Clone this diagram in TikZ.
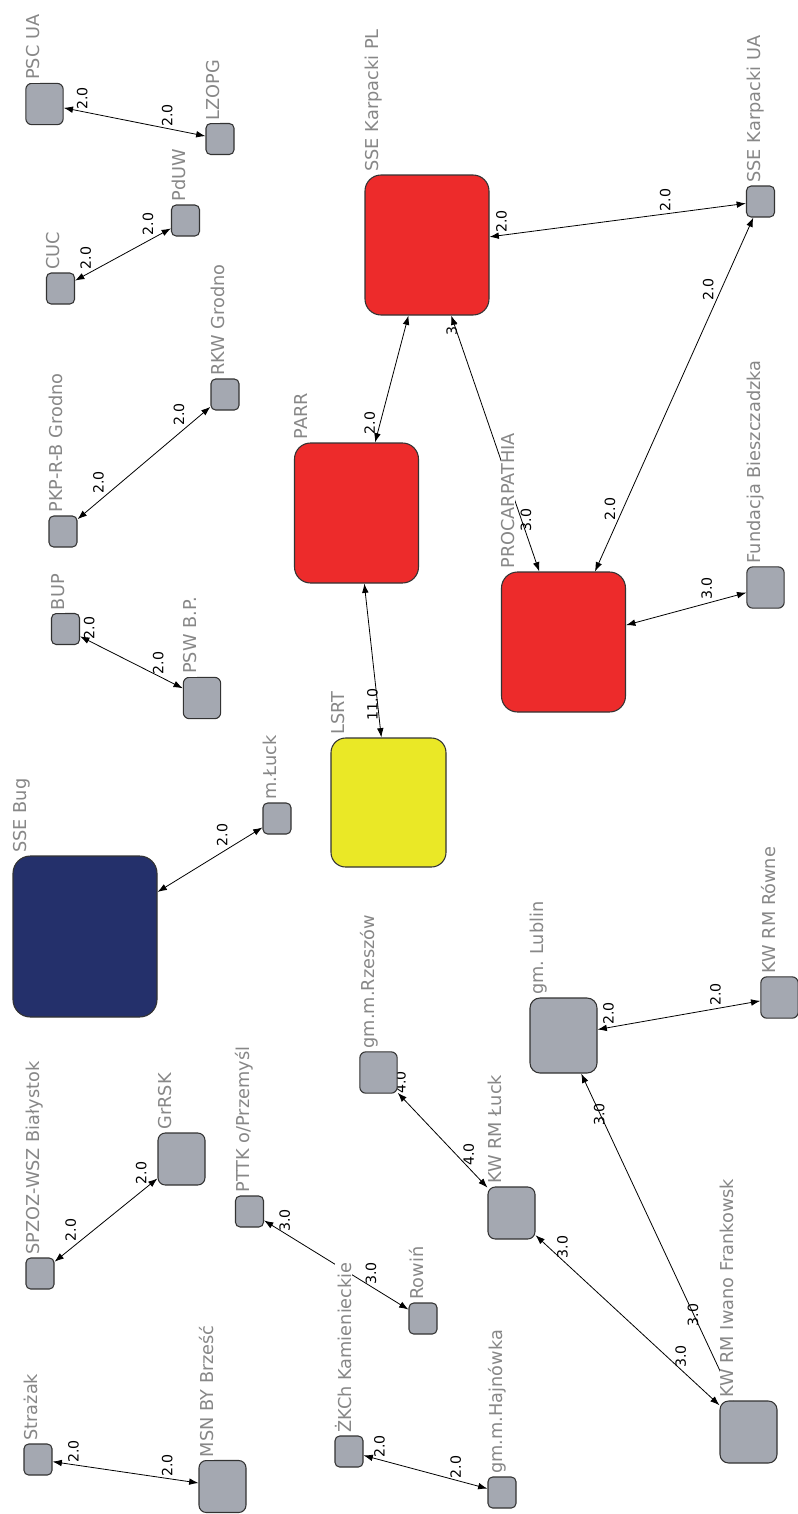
\documentclass[tikz,border=0pt]{standalone}
\usepackage{fontspec}
\setmainfont{DejaVu Sans}
\frenchspacing
\usetikzlibrary{arrows.meta,backgrounds}
\definecolor{actgray}{RGB}{164,168,177}
\definecolor{hubred}{RGB}{237,43,43}
\definecolor{hubyellow}{RGB}{234,232,38}
\definecolor{hubnavy}{RGB}{36,48,107}
\definecolor{labgray}{RGB}{135,135,135}
\tikzset{
  actor/.style={draw=black!80, line width=0.8pt, inner sep=0pt, rounded corners=3.5pt, fill=actgray},
  s1/.style={actor, minimum width=21pt, minimum height=23.25pt},
  s2/.style={actor, minimum width=28pt, minimum height=31pt, rounded corners=4.5pt},
  s3/.style={actor, minimum width=35.25pt, minimum height=39pt, rounded corners=5.5pt},
  s4/.style={actor, minimum width=42.75pt, minimum height=46.5pt, rounded corners=6.5pt},
  s5/.style={actor, minimum width=50.25pt, minimum height=56.25pt, rounded corners=7.5pt},
  hub/.style={actor, minimum width=93pt, minimum height=105pt, rounded corners=12pt, fill=hubred},
  lab/.style={rotate=90, anchor=north west, fill=white, text=labgray, inner xsep=2pt, inner ysep=0.3pt,
    font=\fontsize{13.3pt}{16pt}\selectfont},
  link/.style={{Latex[length=7pt,width=5pt]}-{Latex[length=7pt,width=5pt]}, line width=0.6pt},
  wt/.style={rotate=90, anchor=west, inner sep=1pt, font=\fontsize{10.6pt}{12pt}\selectfont},
  wtl/.style={wt, anchor=south west},
}
\begin{document}
\begin{tikzpicture}[x=0.75pt, y=-0.75pt]
\useasboundingbox (0,0) rectangle (798,1514);
% actors
\node[s2] (psc) at (44.5,104) {};
\node[s1] (lzopg) at (220,139) {};
\node[s1] (pduw) at (185.5,220.5) {};
\node[s1] (cuc) at (60.5,288.5) {};
\node[s1] (pkp) at (63,531.5) {};
\node[s1] (rkw) at (225,394.5) {};
\node[s1] (bup) at (65.5,629) {};
\node[s2] (psw) at (202,698) {};
\node[hub] (ssepl) at (427,245) {};
\node[s1] (sseua) at (760.5,201.5) {};
\node[hub] (parr) at (356.5,513) {};
\node[hub] (proc) at (563.5,642) {};
\node[s2] (fund) at (765.5,587.5) {};
\node[actor, minimum width=86.25pt, minimum height=96.75pt, rounded corners=11pt, fill=hubyellow] (lsrt) at (388.5,802.5) {};
\node[actor, minimum width=108pt, minimum height=120.75pt, rounded corners=13pt, fill=hubnavy] (ssebug) at (85,936.5) {};
\node[s1] (mluck) at (277,818.5) {};
\node[s2] (rzeszow) at (378.5,1072.5) {};
\node[s5] (lublin) at (563.5,1035.5) {};
\node[s2] (rowne) at (779.5,997.5) {};
\node[s3] (kwluck) at (511.5,1213) {};
\node[s4] (iwano) at (748.5,1432) {};
\node[s1] (spzoz) at (40,1273.5) {};
\node[s3] (grrsk) at (181.5,1159) {};
\node[s1] (pttk) at (249.5,1211.5) {};
\node[s1] (rowin) at (423,1318.5) {};
\node[s1] (strazak) at (38,1459.5) {};
\node[s3] (msn) at (222.5,1486.5) {};
\node[s1] (zkch) at (349,1451.5) {};
\node[s1] (hajn) at (502,1492.5) {};
% names
\node[lab] (psc-l) at (psc.north west) {PSC UA};
\node[lab] (lzopg-l) at (lzopg.north west) {LZOPG};
\node[lab] (pduw-l) at (pduw.north west) {PdUW};
\node[lab] (cuc-l) at (cuc.north west) {CUC};
\node[lab] (pkp-l) at (pkp.north west) {PKP-R-B Grodno};
\node[lab] (rkw-l) at (rkw.north west) {RKW Grodno};
\node[lab] (bup-l) at (bup.north west) {BUP};
\node[lab] (psw-l) at (psw.north west) {PSW B.P.};
\node[lab] (ssepl-l) at (ssepl.north west) {SSE Karpacki PL};
\node[lab] (sseua-l) at (sseua.north west) {SSE Karpacki UA};
\node[lab] (parr-l) at (parr.north west) {PARR};
\node[lab] (proc-l) at (proc.north west) {PROCARPATHIA};
\node[lab] (fund-l) at (fund.north west) {Fundacja Bieszczadzka};
\node[lab] (lsrt-l) at (lsrt.north west) {LSRT};
\node[lab] (ssebug-l) at (ssebug.north west) {SSE Bug};
\node[lab] (mluck-l) at (mluck.north west) {m.Łuck};
\node[lab] (rzeszow-l) at (rzeszow.north west) {gm.m.Rzeszów};
\node[lab] (lublin-l) at (lublin.north west) {gm. Lublin};
\node[lab] (rowne-l) at (rowne.north west) {KW RM Równe};
\node[lab] (kwluck-l) at (kwluck.north west) {KW RM Łuck};
\node[lab] (iwano-l) at (iwano.north west) {KW RM Iwano Frankowsk};
\node[lab] (spzoz-l) at (spzoz.north west) {SPZOZ-WSZ Białystok};
\node[lab] (grrsk-l) at (grrsk.north west) {GrRSK};
\node[lab] (pttk-l) at (pttk.north west) {PTTK o/Przemyśl};
\node[lab] (rowin-l) at (rowin.north west) {Rowiń};
\node[lab] (strazak-l) at (strazak.north west) {Strażak};
\node[lab] (msn-l) at (msn.north west) {MSN BY Brześć};
\node[lab] (zkch-l) at (zkch.north west) {ŻKCh Kamienieckie};
\node[lab] (hajn-l) at (hajn.north west) {gm.m.Hajnówka};
% ties
\begin{scope}[on background layer]
\fill[white] (0,0) rectangle (798,1514);
\draw[link] (psc) -- node[wt,pos=.13] {2.0} node[wt,pos=.73] {2.0} (lzopg);
\draw[link] (cuc) -- node[wtl,pos=.185] {2.0} node[wtl,pos=.833] {2.0} (pduw);
\draw[link] (pkp) -- node[wtl,pos=.21] {2.0} node[wtl,pos=.817] {2.0} (rkw);
\draw[link] (bup) -- node[wt,pos=.09] {2.0} node[wt,pos=.76] {2.0} (psw);
\draw[link] (ssepl) -- node[wtl,pos=.074] {2.0} node[wtl,pos=.713] {2.0} (sseua);
\draw[link] (sseua) -- node[wtl,pos=.24] {2.0} node[wtl,pos=.86] {2.0} (proc);
\draw[link] (ssepl) -- node[wtl,pos=.95] {2.0} (parr);
\draw[link] (ssepl) -- node[wtl,pos=.086] {3.} node[wt,pos=.85] {3.0} (proc);
\draw[link] (parr) -- node[wtl,pos=.90] {11.0} (lsrt);
\draw[link] (proc) -- node[wtl,pos=.73] {3.0} (fund);
\draw[link] (ssebug) -- node[wtl,pos=.685] {2.0} (mluck);
\draw[link] (lublin) -- node[wtl,pos=.11] {2.0} node[wtl,pos=.768] {2.0} (rowne);
\draw[link] (lublin) -- node[wtl,pos=.165] {3.0} node[wtl,pos=.778] {3.0} (iwano);
\draw[link] (rzeszow) -- node[wt,pos=.03] {4.0} node[wt,pos=.79] {4.0} (kwluck);
\draw[link] (kwluck) -- node[wt,pos=.146] {3.0} node[wt,pos=.79] {3.0} (iwano);
\draw[link] (spzoz) -- node[wtl,pos=.226] {2.0} node[wtl,pos=.91] {2.0} (grrsk);
\draw[link] (pttk) -- node[wt,pos=.144] {3.0} node[wt,pos=.74] {3.0} (rowin);
\draw[link] (strazak) -- node[wt,pos=.143] {2.0} node[wt,pos=.786] {2.0} (msn);
\draw[link] (zkch) -- node[wt,pos=.128] {2.0} node[wt,pos=.744] {2.0} (hajn);
\end{scope}
\end{tikzpicture}
\end{document}
